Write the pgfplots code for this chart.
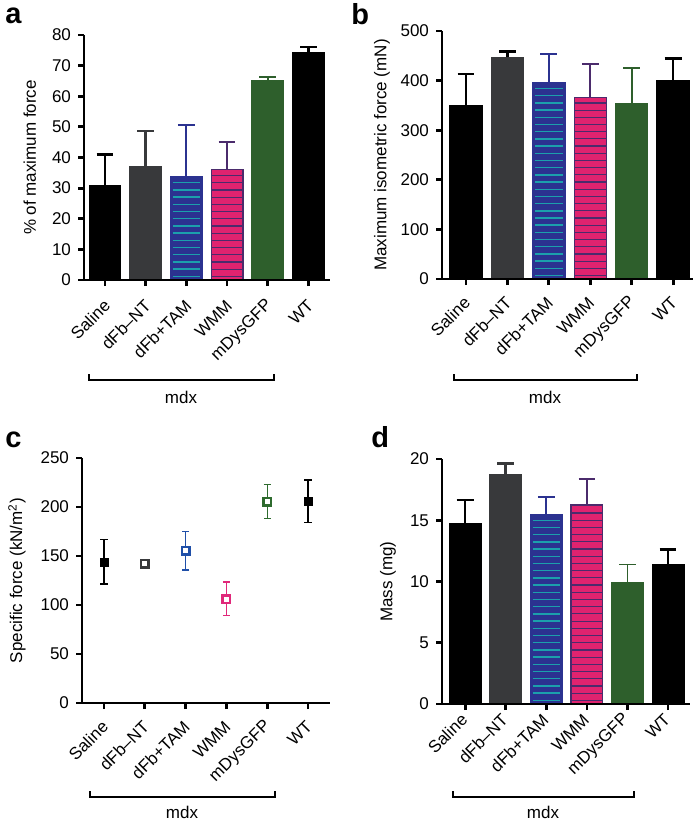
\documentclass[border=0pt]{standalone}
\usepackage{fontspec}
\setmainfont{Liberation Sans}
\usepackage{pgfplots}
\pgfplotsset{compat=1.18}

\definecolor{dgrey}{HTML}{38393B}
\definecolor{navy}{HTML}{2B3290}
\definecolor{teal2}{HTML}{1BA0AC}
\definecolor{pink2}{HTML}{E0236F}
\definecolor{purp}{HTML}{4B2B6C}
\definecolor{green2}{HTML}{2E5F2C}
\definecolor{blue2}{HTML}{1F4FA8}
\definecolor{pinkc}{HTML}{E0287A}
\definecolor{greenc}{HTML}{2E6B2E}
\newcommand{\fs}{\fontsize{8.5}{10}\selectfont}

\pgfplotsset{
  panel/.style={
    scale only axis, anchor=south west,
    axis x line*=bottom, axis y line*=left,
    axis line style={line width=1.4pt,black},
    tick align=outside, major tick length=3pt,
    tick style={line width=1.4pt,black},
    xtick={0,...,5},
    xticklabels={Saline,dFb–NT,dFb+TAM,WMM,mDysGFP,WT},
    y tick label style={font=\fs},
    ylabel style={font=\fs,anchor=center},
    /pgf/number format/assume math mode=true,
    ymin=0,
  },
  xlab/.style 2 args={x tick label style={xshift=#1,yshift=#2,rotate=45,anchor=east,font=\fs}},
  bar/.style 2 args={ybar,bar width=0.78,bar shift=0pt,fill=#1,draw=#2,line width=0.6pt},
  ebar/.style 2 args={/pgfplots/error bars/y dir=plus,/pgfplots/error bars/y explicit,
    /pgfplots/error bars/error bar style={line width=#2,color=#1},
    /pgfplots/error bars/error mark options={rotate=90,line width=#2,color=#1,mark size=4.2pt}},
  pt/.style={only marks,mark size=2pt,
    /pgfplots/error bars/y dir=both,/pgfplots/error bars/y explicit,
    /pgfplots/error bars/error bar style={line width=0.6pt,color=#1},
    /pgfplots/error bars/error mark options={rotate=90,line width=0.6pt,color=#1,mark size=1.8pt}},
  open/.style={mark=square*,color=#1,mark options={fill=white},line width=1.3pt,mark size=1.9pt},
}
% horizontal hatch strokes inside the striped bars (no pattern library)
\newcommand{\hatchB}[1]{\pgfplotsinvokeforeach{#1}{\draw[teal2,line width=0.7pt] (axis cs:1.66,##1) -- (axis cs:2.34,##1);}}
\newcommand{\hatchP}[1]{\pgfplotsinvokeforeach{#1}{\draw[purp,line width=0.6pt] (axis cs:2.61,##1) -- (axis cs:3.39,##1);}}

\begin{document}
\begin{tikzpicture}

% ---------- a ----------
\begin{axis}[panel, xlab={3.5pt}{-6pt}, at={(42pt,-140pt)}, width=123pt, height=122.5pt,
  xmin=-0.516, xmax=5.53, ymax=80, ytick={0,10,...,80},
  ylabel={\% of maximum force},
  ylabel style={at={(axis description cs:-0.22,0.5)}}]
\addplot[bar={black}{black}, ebar={black}{1.3pt}] coordinates {(0,30.7) +- (0,10.2)};
\addplot[bar={dgrey}{dgrey}, ebar={dgrey}{1.3pt}] coordinates {(1,37.0) +- (0,11.7)};
\addplot[bar={navy}{navy}, ebar={navy}{0.9pt}] coordinates {(2,33.7) +- (0,16.8)};
\addplot[bar={pink2}{purp}, ebar={purp}{0.9pt}] coordinates {(3,36.1) +- (0,8.9)};
\addplot[bar={green2}{green2}, ebar={green2}{0.9pt}] coordinates {(4,65.0) +- (0,1.3)};
\addplot[bar={black}{black}, ebar={black}{1.3pt}] coordinates {(5,74.3) +- (0,1.8)};
\hatchB{1.2,3.55,...,32.5}
\hatchP{1.2,3.55,...,35}
\end{axis}

% ---------- b ----------
\begin{axis}[panel, xlab={3pt}{-5pt}, at={(221pt,-139.5pt)}, width=125.5pt, height=124pt,
  xmin=-0.58, xmax=5.48, ymax=500, ytick={0,100,...,500},
  ylabel={Maximum isometric force (mN)},
  ylabel style={at={(axis description cs:-0.239,0.5)}}]
\addplot[bar={black}{black}, ebar={black}{1.3pt}] coordinates {(0,350) +- (0,63)};
\addplot[bar={dgrey}{dgrey}, ebar={black}{1.3pt}] coordinates {(1,447) +- (0,12)};
\addplot[bar={navy}{navy}, ebar={navy}{0.9pt}] coordinates {(2,395) +- (0,58)};
\addplot[bar={pink2}{purp}, ebar={purp}{0.9pt}] coordinates {(3,366) +- (0,67)};
\addplot[bar={green2}{green2}, ebar={green2}{0.9pt}] coordinates {(4,354) +- (0,71)};
\addplot[bar={black}{black}, ebar={black}{1.3pt}] coordinates {(5,400) +- (0,45)};
\hatchB{7,21.5,...,385}
\hatchP{7,21.5,...,360}
\end{axis}

% ---------- c ----------
\begin{axis}[panel, xlab={3pt}{-5pt}, at={(41pt,-351.5pt)}, width=124pt, height=122.5pt,
  xmin=-0.54, xmax=5.54, ymax=250, ytick={0,50,...,250},
  ylabel={Specific force (kN/m\textsuperscript{2})},
  ylabel style={at={(axis description cs:-0.262,0.5)}}]
\addplot[pt=black, mark=square*, black] coordinates {(0,143.8) += (0,23.2) -= (0,22.4)};
\addplot[pt=dgrey, open=dgrey] coordinates {(1,142) += (0,2.5) -= (0,2.5)};
\addplot[pt=blue2, open=blue2] coordinates {(2,155.4) += (0,19.3) -= (0,19.7)};
\addplot[pt=pinkc, open=pinkc] coordinates {(3,105.8) += (0,17.7) -= (0,16.9)};
\addplot[pt=greenc, open=greenc] coordinates {(4,205.4) += (0,17.3) -= (0,17.1)};
\addplot[pt=black, mark=square*, black] coordinates {(5,206.2) += (0,21.4) -= (0,21.7)};
\end{axis}

% ---------- d ----------
\begin{axis}[panel, xlab={2pt}{-1pt}, at={(221pt,-352pt)}, width=124pt, height=122.5pt,
  xmin=-0.57, xmax=5.54, ymax=20, ytick={0,5,...,20},
  ylabel={Mass (mg)},
  ylabel style={at={(axis description cs:-0.218,0.5)}}]
\addplot[bar={black}{black}, ebar={black}{1.3pt}] coordinates {(0,14.69) +- (0,1.96)};
\addplot[bar={dgrey}{dgrey}, ebar={dgrey}{1.3pt}] coordinates {(1,18.69) +- (0,0.93)};
\addplot[bar={navy}{navy}, ebar={navy}{0.9pt}] coordinates {(2,15.45) +- (0,1.42)};
\addplot[bar={pink2}{purp}, ebar={purp}{0.9pt}] coordinates {(3,16.27) +- (0,2.07)};
\addplot[bar={green2}{green2}, ebar={green2}{0.9pt}] coordinates {(4,9.92) +- (0,1.47)};
\addplot[bar={black}{black}, ebar={black}{1.3pt}] coordinates {(5,11.36) +- (0,1.26)};
\hatchB{0.3,0.888,...,15.1}
\hatchP{0.3,0.888,...,16}
\end{axis}

% axis lines on top
\draw[line width=1.4pt] (42pt,-17.5pt) -- (42pt,-140pt) -- (165pt,-140pt);
\draw[line width=1.4pt] (221pt,-15.5pt) -- (221pt,-139.5pt) -- (346.5pt,-139.5pt);
\draw[line width=1.4pt] (41pt,-229pt) -- (41pt,-351.5pt) -- (165pt,-351.5pt);
\draw[line width=1.4pt] (221pt,-229.5pt) -- (221pt,-352pt) -- (345pt,-352pt);

% brackets and panel letters
\draw[line width=0.6pt] (44.5pt,-187pt) -- (44.5pt,-190pt) -- (137pt,-190pt) -- (137pt,-187pt);
\node[font=\fs] at (90.5pt,-198.5pt) {mdx};
\draw[line width=0.6pt] (227pt,-187pt) -- (227pt,-190pt) -- (318.5pt,-190pt) -- (318.5pt,-187pt);
\node[font=\fs] at (272.5pt,-198.5pt) {mdx};
\draw[line width=0.6pt] (45pt,-395.5pt) -- (45pt,-398.5pt) -- (137.5pt,-398.5pt) -- (137.5pt,-395.5pt);
\node[font=\fs] at (91pt,-406pt) {mdx};
\draw[line width=0.6pt] (226.5pt,-395.5pt) -- (226.5pt,-398.5pt) -- (317pt,-398.5pt) -- (317pt,-395.5pt);
\node[font=\fs] at (271.5pt,-406pt) {mdx};

\node[anchor=base west,inner sep=0pt,font=\fontsize{14.5}{15}\bfseries\selectfont] at (2.5pt,-12pt) {a};
\node[anchor=base west,inner sep=0pt,font=\fontsize{14.5}{15}\bfseries\selectfont] at (175.5pt,-12.5pt) {b};
\node[anchor=base west,inner sep=0pt,font=\fontsize{14.5}{15}\bfseries\selectfont] at (2.5pt,-223.5pt) {c};
\node[anchor=base west,inner sep=0pt,font=\fontsize{14.5}{15}\bfseries\selectfont] at (185.5pt,-223.5pt) {d};

\pgfresetboundingbox
\useasboundingbox (0pt,0pt) rectangle (350pt,-411.5pt);
\end{tikzpicture}
\end{document}
